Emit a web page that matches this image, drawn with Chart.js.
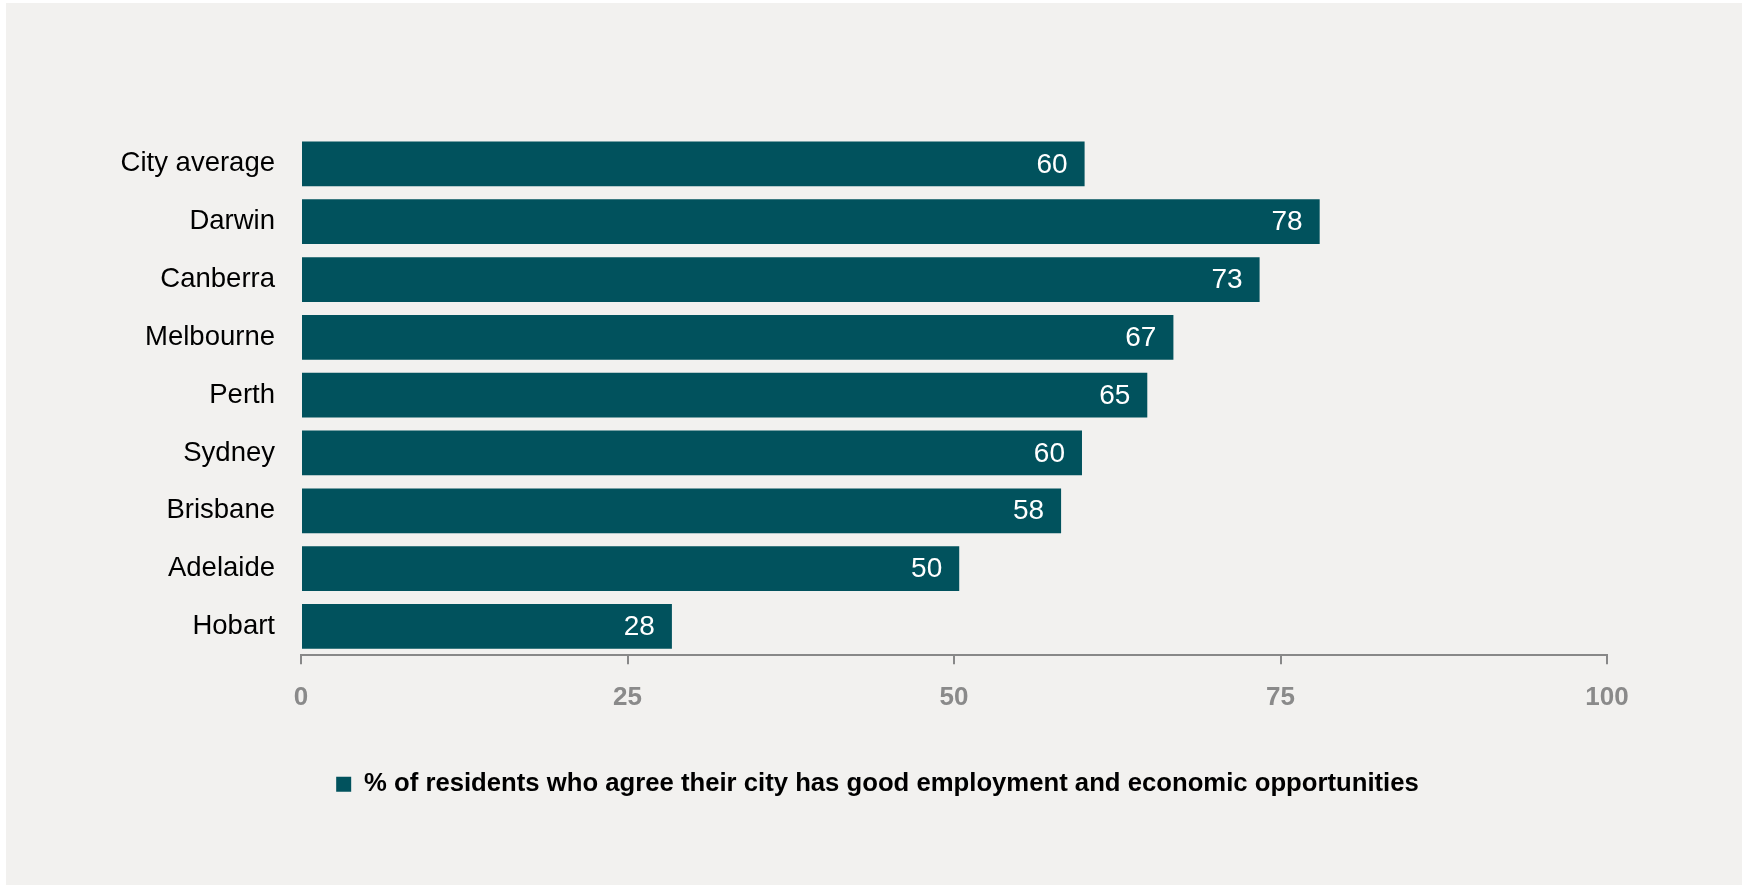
<!DOCTYPE html>
<html>
<head>
<meta charset="utf-8">
<script src="https://cdn.jsdelivr.net/npm/chart.js@4.4.1/dist/chart.umd.min.js"></script>
<style>
  html, body { margin: 0; padding: 0; background: #ffffff; }
  #quadro {
    position: absolute; left: 6px; top: 3px;
    width: 1736px; height: 882px;
    background: #f2f1ef;
  }
  #grafico { position: absolute; left: 0; top: 0; }
</style>
</head>
<body>
<div id="quadro"></div>
<canvas id="grafico" width="1744" height="885"></canvas>
<script>
const cidades = ['City average', 'Darwin', 'Canberra', 'Melbourne', 'Perth', 'Sydney', 'Brisbane', 'Adelaide', 'Hobart'];
const valores = [60, 78, 73.4, 66.8, 64.8, 59.8, 58.2, 50.4, 28.4];
const rotulos = ['60', '78', '73', '67', '65', '60', '58', '50', '28'];
const ticksX = [0, 25, 50, 75, 100];
const serieNome = '% of residents who agree their city has good employment and economic opportunities';

const corBarra = '#01525d';

// escreve o valor dentro da ponta de cada barra
const rotuloBarras = {
    id: 'rotuloBarras',
    afterDatasetsDraw(chart) {
        const ctx = chart.ctx;
        const meta = chart.getDatasetMeta(0);
        ctx.save();
        ctx.fillStyle = '#ffffff';
        ctx.font = '28px "Liberation Sans", Arial, sans-serif';
        ctx.textAlign = 'right';
        ctx.textBaseline = 'middle';
        meta.data.forEach((barra, i) => {
            ctx.fillText(rotulos[i], barra.x - 17, barra.y + 1);
        });
        ctx.restore();
    }
};

// legenda fica um pouco mais para a direita, como no original
const deslocaLegenda = {
    id: 'deslocaLegenda',
    afterLayout(chart) {
        if (!chart.legend) return;
        chart.legend.left += 74;
        chart.legend.right += 74;
    }
};

new Chart(document.getElementById('grafico'), {
    type: 'bar',
    data: {
        labels: cidades,
        datasets: [{
            label: serieNome,
            data: valores,
            backgroundColor: corBarra,
            borderWidth: 0,
            barPercentage: 0.774,
            categoryPercentage: 1.0
        }]
    },
    options: {
        indexAxis: 'y',
        responsive: false,
        animation: false,
        layout: { padding: { top: 135, right: 137, bottom: 78, left: 0 } },
        scales: {
            x: {
                min: 0,
                max: 100,
                afterBuildTicks: (eixo) => { eixo.ticks = ticksX.map(v => ({ value: v })); },
                afterFit: (eixo) => { eixo.height = 106; },
                grid: {
                    drawOnChartArea: false,
                    drawTicks: true,
                    tickLength: 9,
                    color: '#888888',
                    lineWidth: 2
                },
                border: { display: true, color: '#888888', width: 2 },
                ticks: {
                    color: '#8a8a8a',
                    padding: 18,
                    font: { family: '"Liberation Sans", Arial, sans-serif', size: 26, weight: 'bold' }
                }
            },
            y: {
                afterFit: (eixo) => { eixo.width = 301; },
                grid: { display: false, drawTicks: false },
                border: { display: false },
                ticks: {
                    color: '#000000',
                    padding: 26,
                    font: { family: '"Liberation Sans", Arial, sans-serif', size: 27.5 }
                }
            }
        },
        plugins: {
            legend: {
                position: 'bottom',
                labels: {
                    color: '#000000',
                    boxWidth: 15,
                    boxHeight: 15,
                    padding: 10,
                    font: { family: '"Liberation Sans", Arial, sans-serif', size: 25.7, weight: 'bold' }
                }
            },
            tooltip: { enabled: false }
        }
    },
    plugins: [rotuloBarras, deslocaLegenda]
});
</script>
</body>
</html>
